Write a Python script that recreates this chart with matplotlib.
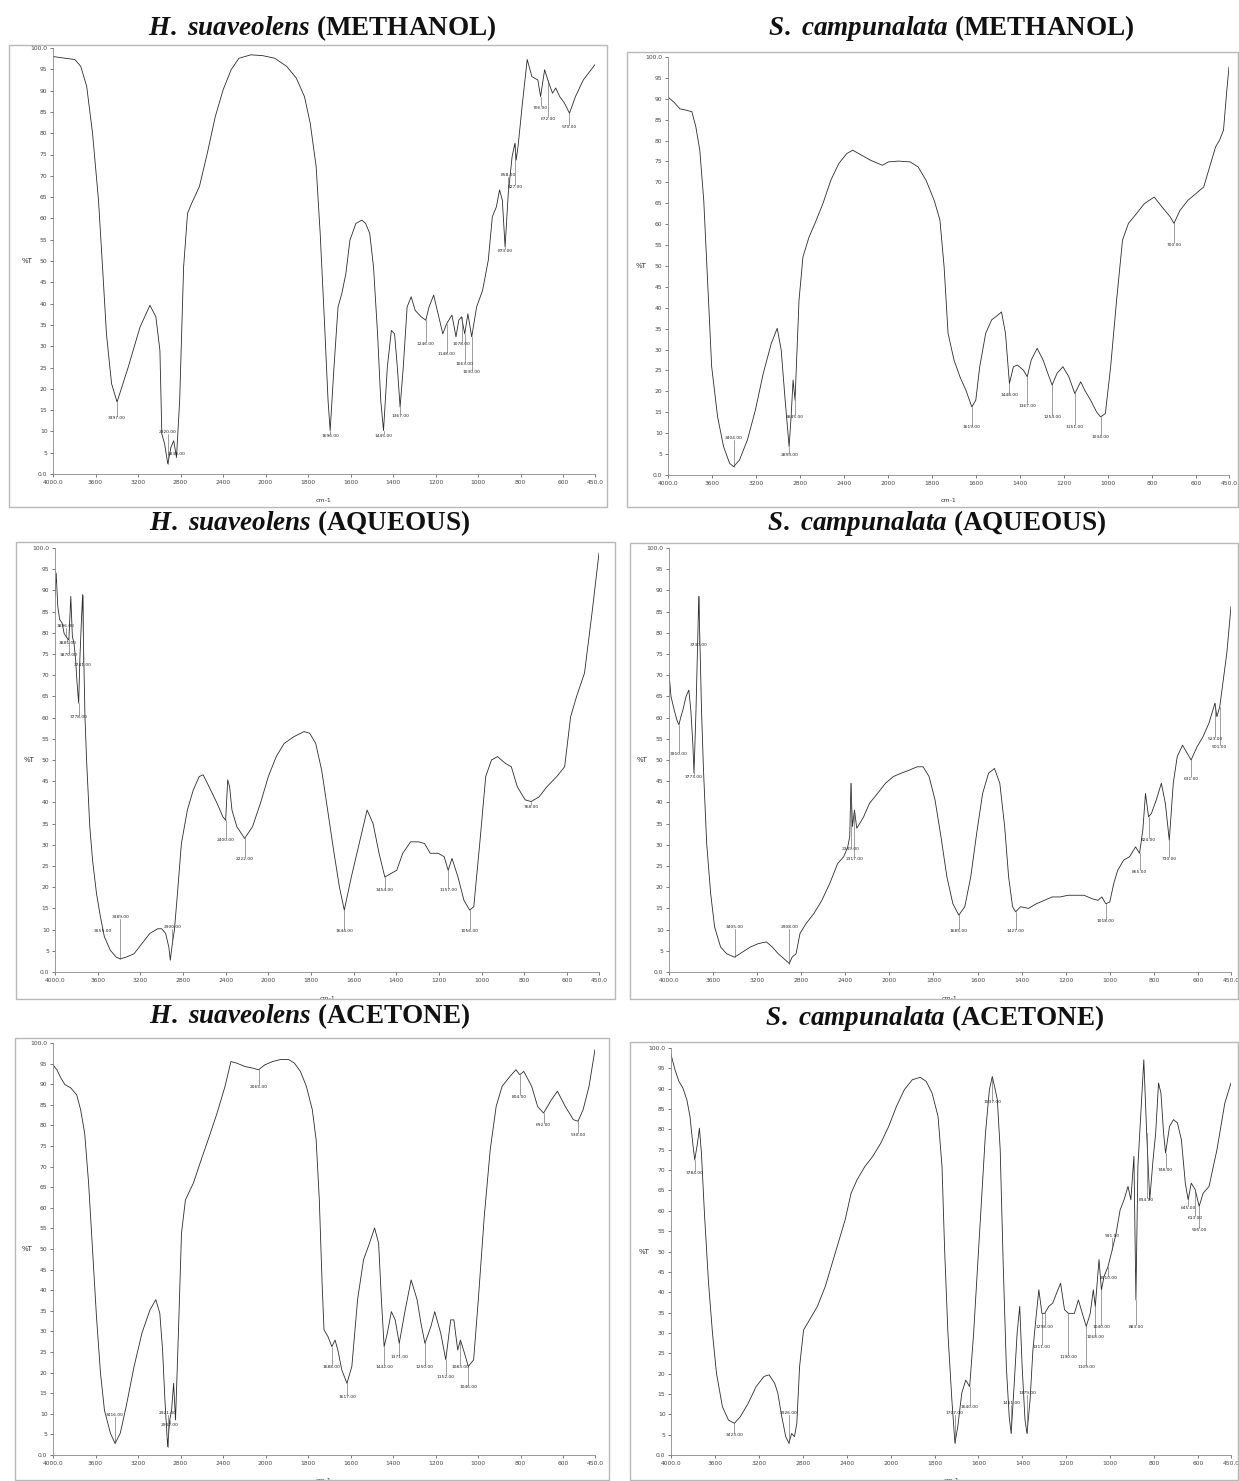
import numpy as np
import matplotlib.pyplot as plt
from matplotlib.patches import Rectangle

plt.rcParams['mathtext.fontset'] = 'custom'
plt.rcParams['mathtext.it'] = 'Liberation Serif:italic:bold'
plt.rcParams['mathtext.rm'] = 'Liberation Serif:bold'

W, H = 1239, 1481

# ---- spectra (wavenumber cm-1, %T) ----
hs_meth_wn = [4000, 3888, 3795, 3739, 3683, 3628, 3572, 3534, 3497, 3449, 3397, 3292, 3181, 3088, 3032, 2994, 2976, 2950, 2920, 2890,
              2864, 2838, 2808, 2771, 2734, 2696, 2622, 2548, 2473, 2399, 2324, 2250, 2138, 2026, 1957, 1901, 1855, 1817, 1790, 1762,
              1743, 1724, 1706, 1696, 1678, 1659, 1641, 1622, 1603, 1575, 1547, 1529, 1510, 1492, 1473, 1458, 1445, 1427, 1408, 1393,
              1380, 1367, 1352, 1334, 1315, 1296, 1268, 1246, 1231, 1209, 1185, 1166, 1148, 1123, 1104, 1091, 1078, 1063, 1048, 1030,
              1007, 979, 952, 933, 914, 899, 886, 873, 858, 840, 827, 821, 812, 793, 769, 747, 719, 706, 687, 672,
              650, 635, 616, 594, 570, 542, 505, 450]
hs_meth_t = [98.0, 97.6, 97.3, 95.7, 91.0, 80.0, 64.3, 48.6, 32.9, 21.2, 16.9, 25.1, 34.5, 39.6, 36.9, 29.0, 9.4, 7.1, 2.4, 6.3,
             7.8, 3.9, 17.3, 48.6, 61.2, 63.5, 67.5, 75.3, 83.9, 90.2, 94.9, 97.6, 98.4, 98.2, 97.6, 95.7, 92.9, 88.6, 82.4, 72.2,
             56.5, 36.9, 17.3, 10.2, 25.1, 39.2, 42.4, 47.1, 54.9, 58.8, 59.6, 58.8, 56.5, 48.6, 32.9, 17.3, 10.2, 25.1, 33.7, 32.9,
             25.1, 15.7, 25.1, 39.2, 41.6, 38.4, 36.9, 36.1, 39.2, 42.0, 36.9, 32.9, 35.3, 37.3, 32.2, 36.1, 36.9, 32.9, 37.6, 32.2,
             39.2, 43.1, 50.2, 60.4, 62.7, 66.7, 64.3, 53.3, 65.9, 74.5, 77.6, 73.7, 76.9, 86.3, 97.3, 93.3, 92.5, 88.6, 94.9, 92.5,
             89.4, 90.6, 88.6, 87.1, 84.7, 88.6, 92.5, 96.1]
hs_meth_pk = [3397, 2920, 2838, 1696, 1445, 1367, 1246, 1148, 1078, 1063, 1030, 873, 858, 827, 706, 672, 570]
hs_meth_pk_t = [13.7, 9.4, 4.3, 9.4, 9.4, 14.1, 31.0, 28.6, 31.0, 26.3, 24.3, 52.9, 69.8, 67.8, 86.3, 83.9, 82.0]

sc_meth_wn = [4000, 3946, 3892, 3838, 3783, 3747, 3711, 3675, 3639, 3603, 3549, 3495, 3440, 3404, 3350, 3278, 3206, 3134, 3061, 3007,
              2971, 2935, 2899, 2881, 2863, 2845, 2809, 2773, 2718, 2664, 2592, 2520, 2448, 2375, 2321, 2267, 2159, 2051, 1998, 1953,
              1899, 1863, 1827, 1790, 1764, 1745, 1727, 1700, 1673, 1646, 1619, 1601, 1583, 1556, 1529, 1502, 1484, 1466, 1448, 1430,
              1412, 1385, 1367, 1349, 1322, 1295, 1268, 1254, 1232, 1205, 1178, 1151, 1124, 1106, 1079, 1052, 1034, 1012, 988, 961,
              934, 907, 871, 835, 790, 754, 718, 700, 673, 637, 601, 565, 547, 511, 493, 475, 460, 450]
sc_meth_t = [90.4, 89.2, 87.6, 87.3, 86.9, 83.3, 77.7, 65.7, 45.8, 25.9, 13.9, 6.8, 2.8, 2.0, 3.6, 8.4, 15.5, 24.3, 31.5, 35.1,
             29.9, 17.9, 6.8, 13.9, 22.7, 17.9, 41.8, 52.2, 56.9, 60.2, 64.9, 70.5, 74.5, 76.9, 77.7, 76.9, 75.3, 74.1, 74.9, 75.1,
             74.9, 73.7, 70.5, 65.7, 61.0, 49.8, 33.9, 27.5, 23.5, 20.3, 16.3, 17.9, 25.9, 33.9, 37.1, 38.2, 39.0, 33.9, 21.9, 25.9,
             26.3, 25.1, 23.5, 27.5, 30.3, 27.5, 23.5, 21.5, 24.3, 25.9, 23.5, 19.5, 22.3, 20.3, 17.9, 15.1, 13.9, 14.7, 25.9, 41.8,
             56.2, 60.2, 62.5, 64.9, 66.5, 64.1, 61.8, 60.2, 63.3, 65.7, 67.3, 68.9, 72.1, 78.5, 80.1, 82.5, 92.0, 97.6]
sc_meth_pk = [3404, 2899, 2845, 1619, 1448, 1367, 1254, 1151, 1034, 700]
sc_meth_pk_t = [8.4, 5.2, 14.3, 12.0, 19.5, 17.1, 14.3, 12.0, 9.6, 55.4]

hs_aq_wn = [4000, 3989, 3974, 3956, 3933, 3915, 3896, 3870, 3852, 3837, 3822, 3807, 3793, 3778, 3767, 3752, 3741, 3730, 3719, 3704,
            3674, 3648, 3611, 3574, 3537, 3481, 3426, 3389, 3333, 3259, 3185, 3111, 3037, 3000, 2963, 2933, 2919, 2900, 2881, 2852,
            2815, 2759, 2704, 2648, 2611, 2556, 2481, 2426, 2400, 2381, 2363, 2341, 2296, 2222, 2148, 2074, 2000, 1963, 1926, 1880,
            1833, 1806, 1778, 1750, 1722, 1694, 1667, 1644, 1611, 1574, 1537, 1509, 1481, 1454, 1426, 1398, 1370, 1333, 1296, 1268,
            1241, 1204, 1176, 1157, 1139, 1111, 1083, 1056, 1037, 1009, 981, 954, 926, 889, 861, 833, 796, 768, 731, 694,
            648, 611, 583, 555, 518, 481, 450]
hs_aq_t = [88.6, 94.1, 86.2, 83.1, 82.3, 79.9, 79.1, 78.3, 88.6, 79.1, 77.6, 73.7, 68.1, 63.4, 73.7, 83.1, 89.0, 73.7, 60.2, 50.0,
           34.3, 26.4, 18.5, 13.0, 8.3, 5.1, 3.5, 3.1, 3.5, 4.3, 6.7, 9.1, 10.2, 10.2, 9.1, 5.9, 2.8, 6.7, 9.8, 18.5,
           30.3, 38.2, 42.9, 46.1, 46.5, 43.7, 39.8, 36.6, 35.8, 45.3, 43.7, 38.2, 34.3, 31.5, 34.3, 39.8, 46.1, 50.8, 53.9, 55.5,
           56.7, 56.3, 53.9, 47.6, 38.2, 28.7, 20.1, 14.6, 22.4, 30.3, 38.2, 35.0, 28.0, 22.4, 23.2, 24.0, 28.0, 30.7, 30.7, 30.3,
           28.0, 28.0, 27.2, 24.0, 26.8, 22.4, 16.9, 14.6, 15.4, 30.3, 46.1, 50.0, 50.8, 49.2, 48.4, 43.7, 40.6, 40.2, 41.3, 43.7,
           46.1, 48.4, 60.2, 65.0, 70.5, 85.4, 98.8]
hs_aq_pk = [3896, 3885, 3870, 3741, 3778, 3555, 3389, 2900, 2400, 2222, 1644, 1454, 1157, 1056, 768]
hs_aq_pk_t = [81.1, 78.0, 75.2, 72.8, 60.6, 10.2, 12.6, 10.2, 31.5, 27.2, 10.2, 19.7, 19.7, 10.2, 39.4]

sc_aq_wn = [4000, 3982, 3953, 3928, 3910, 3892, 3874, 3845, 3820, 3802, 3784, 3773, 3755, 3740, 3730, 3719, 3705, 3687, 3658, 3622,
            3586, 3532, 3477, 3405, 3333, 3261, 3189, 3117, 3063, 3009, 2955, 2908, 2883, 2847, 2811, 2757, 2685, 2613, 2541, 2469,
            2414, 2378, 2360, 2349, 2335, 2317, 2296, 2270, 2234, 2180, 2108, 2036, 1982, 1946, 1910, 1874, 1847, 1820, 1793, 1766,
            1739, 1712, 1685, 1658, 1631, 1604, 1577, 1550, 1523, 1499, 1477, 1459, 1441, 1427, 1405, 1369, 1333, 1297, 1261, 1225,
            1189, 1153, 1117, 1081, 1054, 1036, 1018, 1000, 982, 964, 937, 910, 883, 865, 850, 838, 824, 811, 789, 766,
            748, 730, 712, 694, 670, 649, 631, 604, 577, 550, 532, 523, 514, 501, 487, 469, 450]
sc_aq_t = [70.5, 65.0, 61.8, 59.4, 58.3, 60.2, 61.8, 65.0, 66.5, 61.8, 53.9, 46.9, 61.8, 77.6, 88.6, 77.6, 61.8, 47.6, 30.3, 18.5,
           10.6, 5.9, 4.3, 3.5, 4.7, 5.9, 6.7, 7.1, 5.9, 4.3, 3.1, 2.0, 3.5, 4.3, 9.1, 11.4, 13.8, 16.9, 20.9, 25.6,
           27.2, 29.5, 31.9, 44.5, 34.3, 38.2, 33.9, 35.0, 36.6, 39.8, 42.1, 44.5, 46.1, 46.9, 47.6, 48.4, 48.4, 46.1, 40.6, 31.9,
           22.4, 16.1, 13.4, 15.4, 22.4, 32.7, 42.1, 46.9, 48.0, 44.5, 34.3, 22.4, 15.4, 14.2, 15.4, 15.0, 16.1, 16.9, 17.7, 17.7,
           18.1, 18.1, 18.1, 17.3, 16.9, 17.7, 16.1, 16.5, 20.9, 24.0, 26.4, 27.2, 29.5, 28.0, 33.5, 42.1, 36.6, 37.4, 40.6, 44.5,
           39.8, 31.1, 44.5, 50.8, 53.5, 51.6, 50.0, 53.1, 55.5, 58.7, 61.8, 63.4, 60.2, 62.6, 68.1, 75.2, 86.2]
sc_aq_pk = [3910, 3773, 3730, 3405, 2908, 2349, 2317, 1685, 1427, 1018, 865, 824, 730, 631, 523, 501]
sc_aq_pk_t = [52.0, 46.5, 77.6, 10.2, 10.2, 29.5, 27.2, 10.2, 10.2, 12.6, 24.0, 31.5, 27.2, 46.1, 55.5, 53.5]

hs_ac_wn = [4000, 3963, 3926, 3888, 3833, 3777, 3740, 3702, 3665, 3628, 3591, 3553, 3516, 3460, 3416, 3367, 3312, 3237, 3163, 3088,
            3033, 2995, 2969, 2947, 2921, 2902, 2884, 2865, 2847, 2820, 2791, 2754, 2679, 2605, 2530, 2456, 2381, 2326, 2270, 2195,
            2121, 2065, 2007, 1967, 1929, 1892, 1864, 1836, 1808, 1780, 1762, 1747, 1734, 1725, 1706, 1688, 1673, 1660, 1641, 1617,
            1594, 1567, 1539, 1511, 1487, 1468, 1455, 1442, 1427, 1408, 1390, 1371, 1343, 1315, 1287, 1269, 1250, 1222, 1204, 1176,
            1152, 1129, 1114, 1096, 1083, 1064, 1046, 1021, 999, 971, 943, 915, 887, 850, 822, 804, 785, 748, 720, 692,
            655, 627, 590, 552, 530, 506, 478, 450]
hs_ac_t = [94.7, 93.5, 91.5, 89.9, 89.1, 87.4, 83.8, 78.1, 66.0, 49.8, 33.6, 19.8, 10.9, 5.3, 2.8, 5.3, 11.7, 21.5, 29.6, 35.2,
           37.7, 34.4, 25.5, 13.4, 2.0, 8.5, 10.9, 17.4, 8.5, 29.6, 53.8, 61.9, 66.0, 71.7, 77.3, 83.0, 89.5, 95.5, 95.1, 94.3,
           93.9, 93.5, 94.7, 95.5, 96.0, 96.0, 95.1, 93.1, 89.5, 83.8, 76.5, 61.9, 41.7, 30.4, 28.7, 26.3, 27.9, 25.5, 20.6, 17.4,
           21.5, 37.7, 47.4, 51.4, 55.1, 51.4, 37.7, 26.3, 29.6, 34.8, 32.8, 27.1, 35.2, 42.5, 37.7, 32.0, 27.1, 31.2, 34.8, 29.6,
           23.1, 32.8, 32.8, 25.5, 27.9, 24.7, 21.5, 23.1, 37.7, 57.9, 74.1, 84.6, 89.5, 91.9, 93.5, 92.3, 93.1, 89.5, 84.6, 83.0,
           86.2, 88.3, 84.6, 81.4, 81.0, 83.8, 89.5, 98.4]
hs_ac_pk = [3416, 2921, 2902, 2065, 1688, 1617, 1442, 1371, 1250, 1152, 1083, 1046, 804, 692, 530]
hs_ac_pk_t = [9.3, 9.7, 7.7, 89.9, 21.9, 14.6, 21.9, 24.3, 21.9, 19.4, 21.9, 17.0, 87.4, 80.6, 78.1]

sc_ac_wn = [4000, 3964, 3928, 3892, 3856, 3827, 3802, 3784, 3759, 3741, 3723, 3694, 3658, 3622, 3586, 3532, 3477, 3423, 3369, 3297,
            3225, 3153, 3106, 3056, 3027, 2991, 2955, 2926, 2901, 2876, 2854, 2829, 2793, 2739, 2667, 2595, 2505, 2414, 2360, 2306,
            2234, 2162, 2090, 2018, 1973, 1937, 1901, 1865, 1838, 1811, 1784, 1766, 1754, 1739, 1721, 1707, 1694, 1676, 1658, 1640,
            1622, 1604, 1586, 1568, 1550, 1537, 1527, 1514, 1501, 1487, 1473, 1460, 1451, 1437, 1424, 1412, 1401, 1388, 1379, 1365,
            1352, 1339, 1325, 1311, 1298, 1280, 1262, 1244, 1226, 1208, 1190, 1163, 1145, 1127, 1109, 1091, 1077, 1068, 1051, 1040,
            1028, 1010, 991, 973, 955, 937, 919, 906, 892, 883, 874, 859, 847, 834, 820, 805, 793, 780, 769, 757,
            748, 730, 712, 694, 676, 658, 645, 631, 613, 595, 577, 550, 514, 478, 450]
sc_ac_t = [98.4, 94.7, 91.8, 90.2, 87.3, 83.2, 76.6, 72.5, 76.6, 80.3, 74.2, 58.6, 42.2, 29.9, 20.1, 11.9, 8.6, 7.8, 9.4, 12.7,
           16.8, 19.3, 19.7, 17.6, 15.2, 9.4, 4.5, 2.9, 5.3, 4.5, 7.8, 21.7, 30.7, 33.2, 36.5, 41.4, 49.6, 57.8, 64.3, 67.6,
           70.9, 73.4, 76.6, 80.7, 85.7, 89.8, 92.2, 92.8, 91.8, 88.9, 83.2, 70.9, 50.4, 29.9, 13.5, 2.9, 7.0, 15.2, 18.4, 16.8,
           29.9, 46.3, 62.7, 79.1, 89.8, 93.0, 90.6, 87.3, 75.0, 46.3, 21.7, 9.4, 5.3, 17.6, 29.9, 36.5, 21.7, 8.6, 5.3, 13.5,
           25.8, 33.2, 40.6, 34.8, 34.8, 36.5, 37.3, 39.8, 42.2, 35.7, 34.8, 34.8, 38.1, 34.8, 31.6, 34.8, 40.6, 36.5, 48.0, 40.6,
           43.9, 46.3, 50.4, 54.5, 60.2, 62.7, 66.0, 62.7, 73.4, 38.1, 70.9, 85.7, 97.1, 79.1, 62.7, 72.5, 79.1, 91.4, 88.9, 79.1,
           74.2, 80.7, 82.4, 81.6, 77.5, 66.8, 62.7, 66.8, 65.2, 61.1, 64.3, 66.0, 75.0, 86.5, 91.4]
sc_ac_pk = [3784, 3423, 2926, 1707, 1640, 1537, 1451, 1379, 1311, 1298, 1190, 1109, 1068, 1040, 1010, 991, 883, 834, 748, 645, 613, 595]
sc_ac_pk_t = [69.7, 5.3, 9.8, 9.8, 12.3, 87.3, 12.3, 14.8, 27.0, 32.0, 24.6, 22.1, 29.5, 32.0, 43.9, 53.3, 32.0, 63.1, 70.5, 61.1, 58.6, 55.7]

x_ticks = [4000, 3600, 3200, 2800, 2400, 2000, 1800, 1600, 1400, 1200, 1000, 800, 600, 450]
x_tick_labels = ['4000.0', '3600', '3200', '2800', '2400', '2000', '1800', '1600', '1400', '1200', '1000', '800', '600', '450.0']
y_ticks = list(range(0, 101, 5))
y_tick_labels = ['0.0'] + [str(v) for v in range(5, 100, 5)] + ['100.0']


# the instrument halves the scale above 2000 cm-1
def fwd(x):
    x = np.asarray(x, dtype=float)
    return np.where(x > 2000, 2000 + (x - 2000) / 2, x)


def inv(y):
    y = np.asarray(y, dtype=float)
    return np.where(y > 2000, 2000 + (y - 2000) * 2, y)


fig = plt.figure(figsize=(W / 100, H / 100), dpi=100)
fig.patch.set_facecolor('white')


def panel(frame, box, title, tpos, wn, tr, pk, pk_t):
    x0, y0, x1, y1 = frame
    fig.patches.append(Rectangle((x0 / W, 1 - y1 / H), (x1 - x0) / W, (y1 - y0) / H,
                                 transform=fig.transFigure, fill=False, edgecolor='#b8b8b8', lw=1.0))
    fig.text(tpos[0] / W, 1 - tpos[1] / H, title, fontsize=19.5, fontweight='bold',
             family='Liberation Serif', ha='center', va='center', color='#111111')

    l, t, r, b = box
    ax = fig.add_axes([l / W, 1 - b / H, (r - l) / W, (b - t) / H])
    ax.set_xscale('function', functions=(fwd, inv))
    ax.plot(wn, tr, color='#2b2b2b', lw=0.6)
    ax.set_xlim(4000, 450)
    ax.set_ylim(0, 100)
    ax.set_xticks(x_ticks)
    ax.set_xticklabels(x_tick_labels)
    ax.set_yticks(y_ticks)
    ax.set_yticklabels(y_tick_labels)
    ax.minorticks_off()
    ax.tick_params(labelsize=4.3, length=2, width=0.5, pad=2, colors='#444444')
    for s in ['top', 'right']:
        ax.spines[s].set_visible(False)
    for s in ['left', 'bottom']:
        ax.spines[s].set_color('#8a8a8a')
        ax.spines[s].set_linewidth(0.6)
    ax.text(-0.048, 0.5, '%T', transform=ax.transAxes, fontsize=5, ha='center', va='center', color='#333333')
    ax.text(0.5, -0.062, 'cm-1', transform=ax.transAxes, fontsize=4.5, ha='center', va='center', color='#333333')

    # peak picks
    xs = np.array(wn[::-1], dtype=float)
    ys = np.array(tr[::-1], dtype=float)
    for w, yl in zip(pk, pk_t):
        yc = float(np.interp(w, xs, ys))
        ax.plot([w, w], [yc, yl], color='#555555', lw=0.4)
        va = 'top' if yl < yc else 'bottom'
        ax.text(w, yl, f'{w:.2f}', fontsize=3.2, ha='center', va=va, color='#222222')
    return ax


panel((9, 45, 607, 507), (53, 48, 595, 474), r'$\mathit{H.\ suaveolens}$ (METHANOL)', (322, 28),
      hs_meth_wn, hs_meth_t, hs_meth_pk, hs_meth_pk_t)
panel((627, 52, 1238, 507), (668, 57, 1229, 475), r'$\mathit{S.\ campunalata}$ (METHANOL)', (951, 28),
      sc_meth_wn, sc_meth_t, sc_meth_pk, sc_meth_pk_t)
panel((16, 542, 615, 999), (55, 548, 599, 972), r'$\mathit{H.\ suaveolens}$ (AQUEOUS)', (310, 523),
      hs_aq_wn, hs_aq_t, hs_aq_pk, hs_aq_pk_t)
panel((630, 543, 1238, 999), (669, 548, 1231, 972), r'$\mathit{S.\ campunalata}$ (AQUEOUS)', (937, 523),
      sc_aq_wn, sc_aq_t, sc_aq_pk, sc_aq_pk_t)
panel((15, 1038, 609, 1480), (53, 1043, 595, 1455), r'$\mathit{H.\ suaveolens}$ (ACETONE)', (310, 1016),
      hs_ac_wn, hs_ac_t, hs_ac_pk, hs_ac_pk_t)
panel((630, 1042, 1238, 1480), (671, 1048, 1231, 1455), r'$\mathit{S.\ campunalata}$ (ACETONE)', (935, 1018),
      sc_ac_wn, sc_ac_t, sc_ac_pk, sc_ac_pk_t)

fig.savefig('out.png', dpi=100, facecolor='white')
